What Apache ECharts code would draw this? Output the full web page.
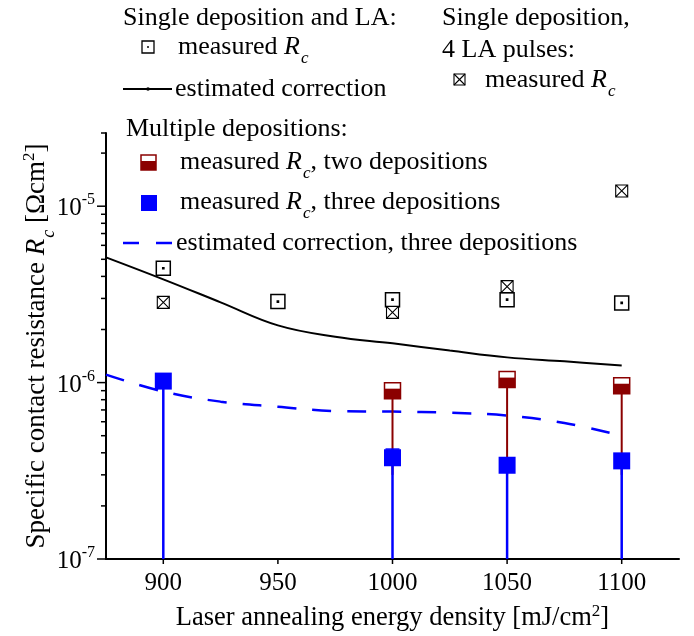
<!DOCTYPE html>
<html>
<head>
<meta charset="utf-8">
<script src="https://cdn.jsdelivr.net/npm/echarts@6/dist/echarts.min.js"></script>
<style>html,body{margin:0;padding:0;background:#fff}#chart{width:694px;height:636px}</style>
</head>
<body>
<div id="chart"></div>
<script>
// single deposition + LA
const singleX = [900, 950, 1000, 1050, 1100]
const singleRc = [4.45e-6, 2.88e-6, 2.95e-6, 2.95e-6, 2.83e-6]
// single deposition, 4 LA pulses
const pulse4X = [900, 1000, 1050, 1100]
const pulse4Rc = [2.85e-6, 2.5e-6, 3.5e-6, 1.22e-5]
// two depositions
const twoDepX = [1000, 1050, 1100]
const twoDepRc = [9.0e-7, 1.04e-6, 9.6e-7]
const twoDepLow = [3.0e-7, 3.0e-7, 3.0e-7]
const twoDepHigh = [9.2e-7, 1.06e-6, 9.8e-7]
// three depositions
const threeDepX = [900, 1000, 1050, 1100]
const threeDepRc = [1.02e-6, 3.75e-7, 3.4e-7, 3.6e-7]
const threeDepLow = [5e-8, 5e-8, 5e-8, 5e-8]
const threeDepHigh = [1.04e-6, 4.2e-7, 3.6e-7, 3.8e-7]
// estimated corrections
const corrX = [875, 900, 925, 950, 975, 1000, 1025, 1050, 1075, 1100]
const corrSingle = [5.13e-6, 3.85e-6, 2.85e-6, 2.11e-6, 1.82e-6, 1.67e-6, 1.52e-6, 1.39e-6, 1.32e-6, 1.25e-6]
const corrThree = [1.11e-6, 8.9e-7, 7.8e-7, 7.3e-7, 6.9e-7, 6.85e-7, 6.75e-7, 6.5e-7, 5.9e-7, 5.0e-7]
// axes
const xMin = 875, xMax = 1125
const yMin = 1e-7, yMax = 2.6e-5
const xTicks = [900, 950, 1000, 1050, 1100]
const yMajor = [1e-7, 1e-6, 1e-5]
const yMinor = [2e-7, 3e-7, 4e-7, 5e-7, 6e-7, 7e-7, 8e-7, 9e-7,
  2e-6, 3e-6, 4e-6, 5e-6, 6e-6, 7e-6, 8e-6, 9e-6, 2e-5, yMax]

const FONT = 'Liberation Serif'
const DARKRED = '#8b0000'
const BLUE = '#0000ff'
const rich = {
  i: {fontFamily: FONT, fontSize: 26, fontStyle: 'italic'},
  sub: {fontFamily: FONT, fontSize: 17, fontStyle: 'italic', padding: [24, 0, 0, 1]},
  sup: {fontFamily: FONT, fontSize: 16, padding: [0, 0, 14, 0]},
  b: {fontFamily: FONT, fontSize: 25, padding: [5, 0, 0, 0]},
  e: {fontFamily: FONT, fontSize: 16, padding: [0, 0, 12, 0]}
}
const richName = Object.assign({}, rich, {
  i: {fontFamily: FONT, fontSize: 27, fontStyle: 'italic'},
  sub: {fontFamily: FONT, fontSize: 18, fontStyle: 'italic', padding: [24, 0, 0, 1]},
  sup: {fontFamily: FONT, fontSize: 17, padding: [0, 0, 14, 0]}
})

const OPEN_SQ = 'path://M0,0L14,0L14,14L0,14Z M6.4,6.4L7.6,6.4L7.6,7.6L6.4,7.6Z'
const CROSS_SQ = 'path://M0,0L12,0L12,12L0,12Z M0,0L12,12 M12,0L0,12'

const errorBar = (color, width) => (params, api) => {
  const x = api.value(0)
  const lo = Math.max(api.value(1), yMin)
  const p1 = api.coord([x, lo]), p2 = api.coord([x, api.value(2)])
  return {type: 'group', children: [
    {type: 'line', shape: {x1: p1[0], y1: p1[1], x2: p2[0], y2: p2[1]}, style: {stroke: color, lineWidth: width}},
    {type: 'line', shape: {x1: p2[0] - 7, y1: p2[1], x2: p2[0] + 7, y2: p2[1]}, style: {stroke: color, lineWidth: 1.5}}
  ]}
}

const yTick = len => (params, api) => {
  const p = api.coord([xMin, api.value(1)])
  return {type: 'line', shape: {x1: p[0] - len, y1: p[1], x2: p[0], y2: p[1]}, style: {stroke: '#000', lineWidth: 1.5}}
}

const txt = (x, y, text) => ({
  type: 'text', x: x, y: y,
  style: {text: text, fontFamily: FONT, fontSize: 26, fill: '#000', verticalAlign: 'middle', rich: rich}
})

var chart = echarts.init(document.getElementById('chart'))
var option = {
  animation: false,
  grid: {left: 106, right: 15, top: 133, bottom: 77, outerBoundsMode: 'none', containLabel: false},
  xAxis: {
    type: 'value', min: xMin, max: xMax,
    name: 'Laser annealing energy density [mJ/cm{sup|2}]',
    nameLocation: 'middle', nameGap: 44, nameMoveOverlap: false,
    nameTextStyle: {fontFamily: FONT, fontSize: 26.5, color: '#000', rich: richName},
    axisLine: {lineStyle: {color: '#000', width: 2}},
    axisTick: {show: false},
    splitLine: {show: false},
    axisLabel: {
      fontFamily: FONT, fontSize: 25, color: '#000', margin: 12,
      formatter: v => (v % 50 === 0 ? String(v) : '')
    }
  },
  yAxis: {
    type: 'log', logBase: 10, min: yMin, max: yMax,
    name: 'Specific contact resistance {i|R}{sub|c} [Ωcm{sup|2}]',
    nameLocation: 'middle', nameRotate: 90, nameGap: 48, nameMoveOverlap: false,
    nameTextStyle: {fontFamily: FONT, fontSize: 27, color: '#000', rich: richName},
    axisLine: {lineStyle: {color: '#000', width: 2}},
    axisTick: {show: false},
    splitLine: {show: false},
    axisLabel: {
      fontFamily: FONT, fontSize: 25, color: '#000', margin: 11, rich: rich,
      formatter: v => {
        const e = Math.log10(v), r = Math.round(e)
        return Math.abs(e - r) < 1e-6 ? '{b|10}{e|' + r + '}' : ''
      }
    }
  },
  graphic: [
    txt(123, 18, 'Single deposition and LA:'),
    {type: 'rect', shape: {x: 142, y: 41, width: 12, height: 12}, style: {fill: '#fff', stroke: '#000', lineWidth: 1.3}},
    {type: 'rect', shape: {x: 147.5, y: 46.5, width: 1, height: 1}, style: {fill: '#000', stroke: '#000', lineWidth: 0.8}},
    txt(178, 47, 'measured {i|R}{sub|c}'),
    {type: 'line', shape: {x1: 123, y1: 89, x2: 172, y2: 89}, style: {stroke: '#000', lineWidth: 2}},
    {type: 'circle', shape: {cx: 148, cy: 89, r: 1.8}, style: {fill: '#000'}},
    txt(175, 89, 'estimated correction'),
    txt(442, 18, 'Single deposition,'),
    txt(442, 50, '4 LA pulses:'),
    {type: 'rect', shape: {x: 454, y: 74, width: 11, height: 11}, style: {fill: '#fff', stroke: '#000', lineWidth: 1.1}},
    {type: 'line', shape: {x1: 454, y1: 74, x2: 465, y2: 85}, style: {stroke: '#000', lineWidth: 1.1}},
    {type: 'line', shape: {x1: 465, y1: 74, x2: 454, y2: 85}, style: {stroke: '#000', lineWidth: 1.1}},
    txt(485, 80, 'measured {i|R}{sub|c}'),
    txt(126, 129, 'Multiple depositions:'),
    {type: 'rect', shape: {x: 141, y: 155, width: 15, height: 15}, style: {fill: '#fff', stroke: DARKRED, lineWidth: 1.5}},
    {type: 'rect', shape: {x: 141, y: 161, width: 15, height: 9}, style: {fill: DARKRED}},
    txt(180, 162, 'measured {i|R}{sub|c}, two depositions'),
    {type: 'rect', shape: {x: 141, y: 195, width: 16, height: 16}, style: {fill: BLUE}},
    txt(180, 202, 'measured {i|R}{sub|c}, three depositions'),
    {type: 'line', shape: {x1: 123, y1: 243, x2: 139, y2: 243}, style: {stroke: BLUE, lineWidth: 2.5}},
    {type: 'line', shape: {x1: 156, y1: 243, x2: 172, y2: 243}, style: {stroke: BLUE, lineWidth: 2.5}},
    txt(176, 243, 'estimated correction, three depositions')
  ],
  series: [
    {type: 'custom', silent: true, renderItem: yTick(9), data: yMajor.map(v => [xMin, v]), z: 5},
    {type: 'custom', silent: true, renderItem: yTick(5), data: yMinor.map(v => [xMin, v]), z: 5},
    {type: 'custom', silent: true, z: 5,
      renderItem: (params, api) => {
        const p = api.coord([api.value(0), yMin])
        return {type: 'line', shape: {x1: p[0], y1: p[1], x2: p[0], y2: p[1] + 5}, style: {stroke: '#000', lineWidth: 1.5}}
      },
      data: xTicks.map(v => [v, yMin])},
    {type: 'line', smooth: 0.4, showSymbol: false, symbol: 'none', z: 2,
      lineStyle: {color: '#000', width: 2},
      data: corrX.map((x, i) => [x, corrSingle[i]])},
    {type: 'line', smooth: 0.4, showSymbol: false, symbol: 'none', z: 2,
      lineStyle: {color: BLUE, width: 2.5, type: [19, 16]},
      data: corrX.map((x, i) => [x, corrThree[i]])},
    {type: 'custom', renderItem: errorBar(DARKRED, 2), z: 3, clip: true,
      data: twoDepX.map((x, i) => [x, twoDepLow[i], twoDepHigh[i]])},
    {type: 'custom', renderItem: errorBar(BLUE, 2.5), z: 3, clip: true,
      data: threeDepX.map((x, i) => [x, threeDepLow[i], threeDepHigh[i]])},
    {type: 'scatter', symbol: OPEN_SQ, symbolSize: 14, z: 4,
      itemStyle: {color: '#fff', borderColor: '#000', borderWidth: 1.5, opacity: 1},
      data: singleX.map((x, i) => [x, singleRc[i]])},
    {type: 'scatter', symbol: CROSS_SQ, symbolSize: 12, z: 4,
      itemStyle: {color: '#fff', borderColor: '#000', borderWidth: 1.1, opacity: 1},
      data: pulse4X.map((x, i) => [x, pulse4Rc[i]])},
    {type: 'custom', z: 4,
      renderItem: (params, api) => {
        const p = api.coord([api.value(0), api.value(1)])
        return {type: 'group', children: [
          {type: 'rect', shape: {x: p[0] - 8, y: p[1] - 8, width: 16, height: 16}, style: {fill: '#fff', stroke: DARKRED, lineWidth: 1.5}},
          {type: 'rect', shape: {x: p[0] - 8, y: p[1] - 2, width: 16, height: 10}, style: {fill: DARKRED}}
        ]}
      },
      data: twoDepX.map((x, i) => [x, twoDepRc[i]])},
    {type: 'scatter', symbol: 'rect', symbolSize: 17, z: 4,
      itemStyle: {color: BLUE, opacity: 1},
      data: threeDepX.map((x, i) => [x, threeDepRc[i]])}
  ]
}
chart.setOption(option)
</script>
</body>
</html>
